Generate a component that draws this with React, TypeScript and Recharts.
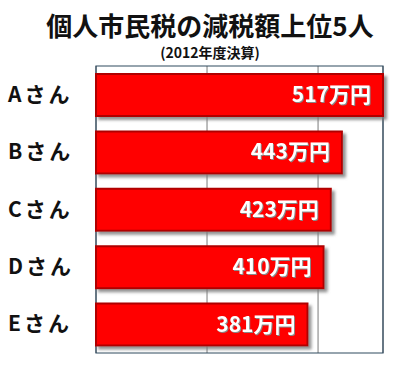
import { BarChart, Bar, XAxis, YAxis, CartesianGrid, LabelList, ReferenceArea } from "recharts";

const people = ["Aさん", "Bさん", "Cさん", "Dさん", "Eさん"];
const amounts = [517, 443, 423, 410, 381];
const xTicks = [0, 200, 400];

const data = people.map((name, i) => ({ name, value: amounts[i] }));

const FONT = '"Noto Sans CJK JP", "Noto Sans", sans-serif';

function NameTick({ y, payload }: any) {
  return (
    <text
      x={8}
      y={y}
      dy={7}
      fontSize={21}
      fontWeight={700}
      fontFamily={FONT}
      letterSpacing={3}
      fill="#111"
    >
      {payload.value}
    </text>
  );
}

function ValueLabel({ x, y, width, height, value }: any) {
  return (
    <text
      x={x + width - 12}
      y={y + height / 2}
      dy={7}
      textAnchor="end"
      fontSize={21}
      fontWeight={700}
      fontFamily={FONT}
      fill="#fff"
      style={{ filter: "drop-shadow(1px 1px 0 #888)" }}
    >
      {`${value}万円`}
    </text>
  );
}

export default function App() {
  return (
    <div style={{ position: "absolute", left: 0, top: 0, width: 401, height: 366, background: "#fff", fontFamily: FONT }}>
      <div
        style={{
          position: "absolute",
          top: 8,
          left: 0,
          width: 420,
          textAlign: "center",
          fontSize: 26,
          fontWeight: 700,
          lineHeight: "34px",
          color: "#111",
        }}
      >
        個人市民税の減税額上位5人
      </div>
      <div
        style={{
          position: "absolute",
          top: 42,
          left: 0,
          width: 420,
          textAlign: "center",
          fontSize: 14,
          fontWeight: 700,
          lineHeight: "20px",
          color: "#111",
        }}
      >
        (2012年度決算)
      </div>
      <BarChart
        width={401}
        height={366}
        data={data}
        layout="vertical"
        margin={{ top: 66, right: 18, bottom: 13, left: 8 }}
        barCategoryGap={15}
      >
        <defs>
          <filter id="barShadow" x="-10%" y="-20%" width="130%" height="160%">
            <feDropShadow dx="3" dy="3" stdDeviation="1.5" floodColor="#777" floodOpacity="0.8" />
          </filter>
        </defs>
        <CartesianGrid horizontal={false} stroke="#7a7a7a" />
        <XAxis type="number" domain={[0, 517]} ticks={xTicks} hide />
        <YAxis
          type="category"
          dataKey="name"
          width={88}
          axisLine={false}
          tickLine={false}
          tick={<NameTick />}
        />
        <ReferenceArea x1={0} x2={517} fill="none" stroke="#2f4a5f" strokeWidth={1.2} ifOverflow="visible" />
        <Bar
          dataKey="value"
          fill="#ff0000"
          stroke="#b00000"
          strokeWidth={2}
          barSize={42}
          filter="url(#barShadow)"
          isAnimationActive={false}
        >
          <LabelList dataKey="value" content={<ValueLabel />} />
        </Bar>
      </BarChart>
    </div>
  );
}
